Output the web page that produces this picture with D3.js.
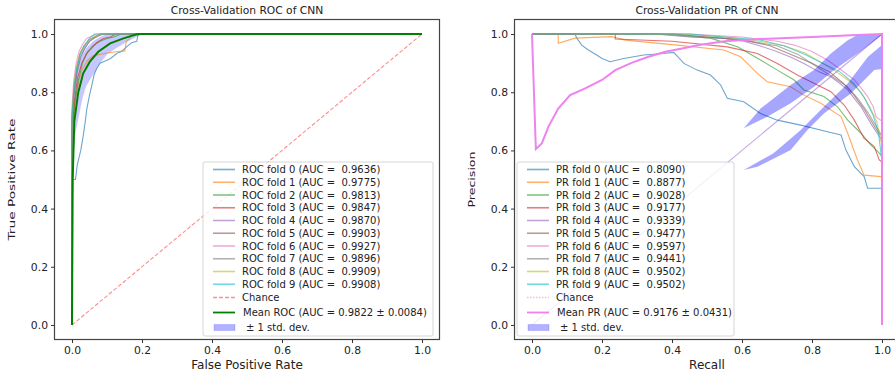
<!DOCTYPE html>
<html>
<head>
<meta charset="utf-8">
<script src="https://cdn.jsdelivr.net/npm/d3@7"></script>
<style>
  body { margin: 0; background: #fff; }
  svg { font-family: "DejaVu Sans", sans-serif; }
</style>
</head>
<body>
<svg id="chart" width="895" height="376"></svg>
<script>
// tab10 fold colours
const foldColors = ["#1f77b4", "#ff7f0e", "#2ca02c", "#d62728", "#9467bd",
  "#8c564b", "#e377c2", "#7f7f7f", "#bcbd22", "#17becf"];
const ticks = [0, 0.2, 0.4, 0.6, 0.8, 1.0];

// ROC data [fpr, tpr]
const rocAuc = ["0.9636", "0.9775", "0.9813", "0.9847", "0.9870", "0.9903", "0.9927", "0.9896", "0.9909", "0.9908"];
const rocFolds = [
  [[0,0],[0,0.5],[0.01,0.5],[0.015,0.55],[0.025,0.6],[0.032,0.65],[0.038,0.7],[0.042,0.74],[0.05,0.79],[0.056,0.82],[0.063,0.86],[0.07,0.88],[0.08,0.9],[0.09,0.905],[0.109,0.915],[0.13,0.935],[0.142,0.94],[0.156,0.956],[0.17,0.97],[0.185,0.975],[0.189,1.0],[1,1]],
  [[0,0],[0,0.62],[0.005,0.7],[0.01,0.78],[0.02,0.84],[0.03,0.88],[0.045,0.91],[0.06,0.925],[0.08,0.93],[0.1,0.935],[0.13,0.94],[0.151,0.942],[0.155,0.975],[0.165,0.985],[0.17,1.0],[1,1]],
  [[0,0],[0,0.66],[0.008,0.76],[0.018,0.84],[0.03,0.9],[0.045,0.94],[0.06,0.96],[0.08,0.975],[0.1,0.985],[0.12,0.99],[0.14,1.0],[1,1]],
  [[0,0],[0,0.68],[0.008,0.78],[0.016,0.85],[0.028,0.9],[0.04,0.93],[0.055,0.95],[0.07,0.97],[0.09,0.985],[0.11,0.99],[0.125,1.0],[1,1]],
  [[0,0],[0,0.7],[0.006,0.8],[0.014,0.87],[0.024,0.92],[0.036,0.95],[0.05,0.975],[0.065,0.99],[0.085,1.0],[1,1]],
  [[0,0],[0,0.72],[0.006,0.82],[0.013,0.88],[0.022,0.93],[0.034,0.96],[0.048,0.98],[0.065,0.99],[0.08,1.0],[1,1]],
  [[0,0],[0,0.75],[0.005,0.84],[0.012,0.9],[0.02,0.94],[0.03,0.965],[0.042,0.985],[0.06,0.995],[0.07,1.0],[1,1]],
  [[0,0],[0,0.7],[0.007,0.8],[0.015,0.87],[0.025,0.92],[0.038,0.955],[0.05,0.975],[0.07,0.99],[0.09,1.0],[1,1]],
  [[0,0],[0,0.73],[0.006,0.83],[0.013,0.89],[0.023,0.935],[0.035,0.96],[0.05,0.98],[0.066,0.992],[0.085,1.0],[1,1]],
  [[0,0],[0,0.72],[0.006,0.82],[0.014,0.885],[0.024,0.93],[0.036,0.96],[0.05,0.985],[0.06,0.995],[0.065,1.0],[1,1]]
];
const rocMean = [[0,0],[0.002,0.5],[0.0066,0.70],[0.018,0.80],[0.032,0.865],[0.051,0.905],[0.075,0.939],[0.109,0.968],[0.147,0.985],[0.185,0.999],[0.2,1.0],[1,1]];
const rocBandX = [0, 0.004, 0.01, 0.02, 0.03, 0.04, 0.06, 0.08, 0.1, 0.13, 0.16, 0.2, 1];
const rocBandHi = [0, 0.8, 0.85, 0.9, 0.93, 0.95, 0.975, 0.99, 1, 1, 1, 1, 1];
const rocBandLo = [0, 0.58, 0.66, 0.72, 0.78, 0.82, 0.86, 0.9, 0.93, 0.955, 0.975, 1, 1];

// PR data [recall, precision]
const prAuc = ["0.8090", "0.8877", "0.9028", "0.9177", "0.9339", "0.9477", "0.9597", "0.9441", "0.9502", "0.9502"];
const prFolds = [
  [[0,1],[0.123,1],[0.128,0.986],[0.142,0.962],[0.161,0.945],[0.185,0.928],[0.2,0.916],[0.223,0.905],[0.262,0.916],[0.319,0.928],[0.376,0.933],[0.405,0.937],[0.434,0.899],[0.472,0.876],[0.51,0.859],[0.539,0.825],[0.558,0.779],[0.605,0.767],[0.653,0.727],[0.701,0.704],[0.768,0.687],[0.844,0.664],[0.883,0.653],[0.897,0.601],[0.921,0.544],[0.949,0.51],[0.959,0.47],[0.997,0.47],[1,0.47]],
  [[0,1],[0.075,1],[0.075,0.968],[0.123,0.986],[0.228,0.991],[0.266,0.979],[0.415,0.962],[0.548,0.945],[0.596,0.922],[0.644,0.865],[0.672,0.836],[0.739,0.819],[0.777,0.79],[0.825,0.762],[0.883,0.716],[0.902,0.659],[0.93,0.567],[0.949,0.515],[0.997,0.51],[1,0.51]],
  [[0,1],[0.352,1],[0.4,0.997],[0.51,0.986],[0.587,0.956],[0.653,0.911],[0.701,0.876],[0.749,0.842],[0.777,0.808],[0.834,0.785],[0.873,0.75],[0.902,0.704],[0.94,0.659],[0.968,0.619],[0.988,0.596],[1,0.58]],
  [[0,1],[0.238,1],[0.238,0.983],[0.4,0.975],[0.558,0.956],[0.644,0.933],[0.701,0.899],[0.758,0.859],[0.797,0.836],[0.854,0.802],[0.892,0.756],[0.921,0.704],[0.949,0.641],[0.978,0.613],[0.992,0.567],[1,0.56]],
  [[0,1],[0.35,1],[0.45,0.99],[0.55,0.985],[0.605,0.975],[0.65,0.96],[0.701,0.939],[0.74,0.92],[0.777,0.899],[0.82,0.87],[0.854,0.853],[0.88,0.83],[0.902,0.808],[0.92,0.78],[0.94,0.75],[0.968,0.693],[0.992,0.648],[1,0.64]],
  [[0,1],[0.4,1],[0.5,0.99],[0.6,0.98],[0.68,0.96],[0.74,0.93],[0.8,0.9],[0.85,0.87],[0.89,0.83],[0.92,0.79],[0.95,0.74],[0.97,0.7],[0.99,0.66],[1,0.65]],
  [[0,1],[0.45,1],[0.6,0.99],[0.7,0.975],[0.749,0.962],[0.8,0.94],[0.844,0.911],[0.88,0.88],[0.921,0.842],[0.94,0.815],[0.959,0.785],[0.975,0.75],[0.983,0.716],[1,0.70]],
  [[0,1],[0.4,1],[0.5,0.99],[0.6,0.98],[0.7,0.96],[0.76,0.93],[0.81,0.89],[0.85,0.86],[0.9,0.82],[0.93,0.78],[0.96,0.73],[0.98,0.69],[0.995,0.66],[1,0.66]],
  [[0,1],[0.42,1],[0.55,0.99],[0.65,0.975],[0.72,0.96],[0.78,0.935],[0.83,0.9],[0.87,0.87],[0.91,0.835],[0.94,0.8],[0.965,0.75],[0.985,0.7],[0.995,0.64],[1,0.62]],
  [[0,1],[0.45,1],[0.55,0.99],[0.65,0.98],[0.72,0.96],[0.78,0.93],[0.83,0.9],[0.88,0.87],[0.92,0.83],[0.95,0.78],[0.975,0.72],[0.99,0.66],[0.998,0.58],[1,0.56]]
];
const prMean = [[0,1],[0.011,0.605],[0.028,0.624],[0.047,0.682],[0.075,0.744],[0.109,0.79],[0.152,0.813],[0.2,0.842],[0.238,0.876],[0.286,0.902],[0.333,0.922],[0.381,0.939],[0.429,0.95],[0.477,0.962],[0.55,0.975],[0.65,0.983],[0.8,0.99],[0.93,0.997],[1,1],[1,0]];
// the two odd std bands, as outlines
const prBandA = [[0.605,0.676],[0.653,0.744],[0.739,0.825],[0.806,0.876],[0.854,0.933],[0.902,0.979],[0.93,0.997],[1,1],[1,0.997],[0.93,0.933],[0.863,0.876],[0.806,0.819],[0.739,0.762],[0.672,0.716]];
const prBandB = [[0.605,0.533],[0.69,0.59],[0.768,0.67],[0.834,0.75],[0.902,0.83],[0.96,0.922],[1,0.962],[1,0.88],[0.978,0.876],[0.911,0.796],[0.834,0.727],[0.787,0.67],[0.739,0.601],[0.644,0.544]];

const svg = d3.select("#chart");
const fmt = d3.format(".1f");

function panel(opt) {
  const x = d3.scaleLinear().domain([-0.05, 1.05]).range([opt.left, opt.left + 385]);
  const y = d3.scaleLinear().domain([-0.05, 1.05]).range([339.5, 19.5]);
  const g = svg.append("g");

  g.append("clipPath").attr("id", opt.id + "-clip")
    .append("rect").attr("x", opt.left).attr("y", 19.5).attr("width", 385).attr("height", 320);
  const plot = g.append("g").attr("clip-path", `url(#${opt.id}-clip)`);

  const line = d3.line().x(d => x(d[0])).y(d => y(d[1]));

  opt.draw(plot, x, y, line);

  // frame
  g.append("rect").attr("x", opt.left).attr("y", 19.5).attr("width", 385).attr("height", 320)
    .attr("fill", "none").attr("stroke", "#444").attr("stroke-width", 1.2);

  const xa = g.append("g").attr("transform", "translate(0,339.5)")
    .call(d3.axisBottom(x).tickValues(ticks).tickFormat(fmt).tickSize(3.5).tickPadding(3));
  const ya = g.append("g").attr("transform", `translate(${opt.left},0)`)
    .call(d3.axisLeft(y).tickValues(ticks).tickFormat(fmt).tickSize(3.5).tickPadding(3));
  [xa, ya].forEach(a => {
    a.select(".domain").remove();
    a.selectAll("line").attr("stroke", "#333");
    a.selectAll("text").attr("fill", "#222").style("font-size", "10.8px").style("font-family", "DejaVu Sans");
  });

  g.append("text").attr("x", x(0.5)).attr("y", 14).attr("text-anchor", "middle")
    .style("font-size", "10.7px").attr("fill", "#222").text(opt.title);
  g.append("text").attr("x", x(0.5)).attr("y", 369).attr("text-anchor", "middle")
    .style("font-size", "12px").attr("fill", "#222").text(opt.xlabel);
  g.append("text").attr("transform", `translate(${opt.left - 40},${y(0.5)}) rotate(-90)`)
    .attr("text-anchor", "middle").style("font-size", "9.5px").attr("fill", "#222")
    .attr("textLength", opt.ylabelLen).attr("lengthAdjust", "spacingAndGlyphs").text(opt.ylabel);

  // legend
  const lg = g.append("g").attr("transform", `translate(${opt.legX},162)`);
  lg.append("rect").attr("width", opt.legW).attr("height", 174).attr("rx", 2)
    .attr("fill", "white").attr("fill-opacity", 0.8).attr("stroke", "#ccc").attr("stroke-width", 0.8);
  const rows = opt.legend;
  rows.forEach((r, i) => {
    const yy = i < 10 ? 7.5 + i * 12.75 : (i === 10 ? 135.5 : (i === 11 ? 150.5 : 165.5));
    if (r.type === "rect") {
      lg.append("rect").attr("x", 11).attr("y", yy - 3).attr("width", 21).attr("height", 6)
        .attr("fill", "blue").attr("fill-opacity", 0.3).attr("stroke", "blue").attr("stroke-opacity", 0.15);
    } else {
      lg.append("line").attr("x1", 10).attr("x2", 32).attr("y1", yy).attr("y2", yy)
        .attr("stroke", r.color).attr("stroke-width", r.width || 1.6).attr("stroke-opacity", r.op || 0.6)
        .attr("stroke-dasharray", r.dash || null);
    }
    lg.append("text").attr("x", r.tx || 39).attr("y", yy).attr("dy", "0.35em")
      .style("font-size", "10px").style("white-space", "pre").attr("fill", "#222").text(r.label);
  });
}

// ROC panel
panel({
  id: "roc", left: 54.5, legX: 203, legW: 230, ylabelLen: 122,
  title: "Cross-Validation ROC of CNN", xlabel: "False Positive Rate", ylabel: "True Positive Rate",
  legend: rocAuc.map((a, i) => ({ color: foldColors[i], label: `ROC fold ${i} (AUC =  ${a})` }))
    .concat([{ color: "#ff6060", label: "Chance", dash: "4,2", op: 0.7 },
      { color: "green", width: 1.8, op: 1, tx: 40, label: "Mean ROC (AUC = 0.9822 \u00b1 0.0084)" },
      { type: "rect", tx: 43, label: "\u00b1 1 std. dev." }]),
  draw: (plot, x, y, line) => {
    const area = d3.area().x((d, i) => x(rocBandX[i])).y0((d, i) => y(rocBandLo[i])).y1(d => y(d));
    plot.append("path").attr("d", area(rocBandHi)).attr("fill", "blue").attr("fill-opacity", 0.22);
    plot.append("path").attr("d", line([[0, 0], [1, 1]])).attr("fill", "none")
      .attr("stroke", "red").attr("stroke-opacity", 0.45).attr("stroke-width", 1.1).attr("stroke-dasharray", "4,2");
    rocFolds.forEach((f, i) => {
      plot.append("path").attr("d", line(f)).attr("fill", "none")
        .attr("stroke", foldColors[i]).attr("stroke-opacity", 0.65).attr("stroke-width", 1.1);
    });
    plot.append("path").attr("d", line(rocMean)).attr("fill", "none")
      .attr("stroke", "green").attr("stroke-width", 2);
  }
});

// PR panel
panel({
  id: "pr", left: 514.5, legX: 517, legW: 217, ylabelLen: 56,
  title: "Cross-Validation PR of CNN", xlabel: "Recall", ylabel: "Precision",
  legend: prAuc.map((a, i) => ({ color: foldColors[i], label: `PR fold ${i} (AUC =  ${a})` }))
    .concat([{ color: "#f4a0c0", label: "Chance", dash: "1.5,1.5", op: 0.7 },
      { color: "violet", width: 1.8, op: 1, tx: 40, label: "Mean PR (AUC = 0.9176 \u00b1 0.0431)" },
      { type: "rect", tx: 43, label: "\u00b1 1 std. dev." }]),
  draw: (plot, x, y, line) => {
    plot.append("path").attr("d", line([[0, 0], [1, 1]])).attr("fill", "none")
      .attr("stroke", "#b88ce0").attr("stroke-opacity", 0.8).attr("stroke-width", 1.1);
    prFolds.forEach((f, i) => {
      plot.append("path").attr("d", line(f)).attr("fill", "none")
        .attr("stroke", foldColors[i]).attr("stroke-opacity", 0.65).attr("stroke-width", 1.1);
    });
    [prBandA, prBandB].forEach(b => {
      plot.append("path").attr("d", line(b) + "Z").attr("fill", "blue").attr("fill-opacity", 0.35);
    });
    plot.append("path").attr("d", line(prMean)).attr("fill", "none")
      .attr("stroke", "violet").attr("stroke-width", 2);
  }
});
</script>
</body>
</html>
